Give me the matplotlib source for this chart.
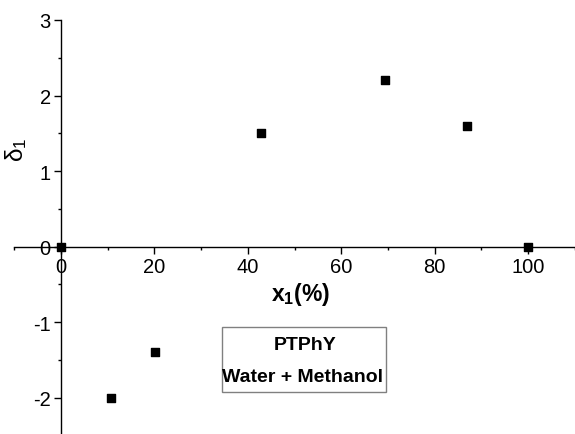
import matplotlib
matplotlib.use("Agg")
import matplotlib.pyplot as plt
from matplotlib.patches import Rectangle
from matplotlib.ticker import MultipleLocator

plt.rcParams['font.family'] = ['Liberation Sans', 'DejaVu Sans']
plt.rcParams['axes.unicode_minus'] = False

x1 = [0, 10.7, 20.2, 42.9, 69.3, 86.9, 100]
delta1 = [0, -2.0, -1.4, 1.5, 2.2, 1.6, 0]
xticks = [0, 20, 40, 60, 80, 100]
yticks = [-2, -1, 0, 1, 2, 3]

fig = plt.figure(figsize=(5.75, 4.35), dpi=100)
W, H = 575, 435
left_px, right_px = 14.4, 574.6
top_px, bot_px = 21, 436.5
ax = fig.add_axes([left_px / W, 1 - bot_px / H, (right_px - left_px) / W, (bot_px - top_px) / H])

ax.scatter(x1, delta1, marker='s', s=38, color='black', zorder=5, clip_on=False)

ax.set_xlim(-10, 110)
ax.set_ylim(-2.5, 3)

for s in ['top', 'right']:
    ax.spines[s].set_visible(False)
ax.spines['left'].set_position(('data', 0))
ax.spines['bottom'].set_position(('data', 0))
for s in ['left', 'bottom']:
    ax.spines[s].set_linewidth(1.0)

ax.set_xticks(xticks)
ax.set_yticks(yticks)
ax.xaxis.set_minor_locator(MultipleLocator(10))
ax.yaxis.set_minor_locator(MultipleLocator(0.5))
ax.tick_params(which='major', direction='out', length=5, width=1.0, labelsize=14.5, pad=2.5)
ax.tick_params(which='minor', direction='out', length=2.5, width=1.0)

ax.text(51.2, -0.62, r'x$_\mathregular{1}$(%)', fontsize=16.5, fontweight='bold',
        ha='center', va='center')
fig.text(16 / W, 1 - 150 / H, r'$\mathregular{\delta_1}$', fontsize=17.5, rotation=90,
         ha='center', va='center')

ax.add_patch(Rectangle((34.5, -1.93), 35.0, 0.87, facecolor='white',
                       edgecolor='#808080', linewidth=1.0, zorder=4))
ax.text(52.3, -1.30, 'PTPhY', fontsize=14, fontweight='bold', ha='center', va='center', zorder=6)
ax.text(51.8, -1.72, 'Water + Methanol', fontsize=14, fontweight='bold', ha='center', va='center', zorder=6)

fig.savefig('out.png', dpi=100)
